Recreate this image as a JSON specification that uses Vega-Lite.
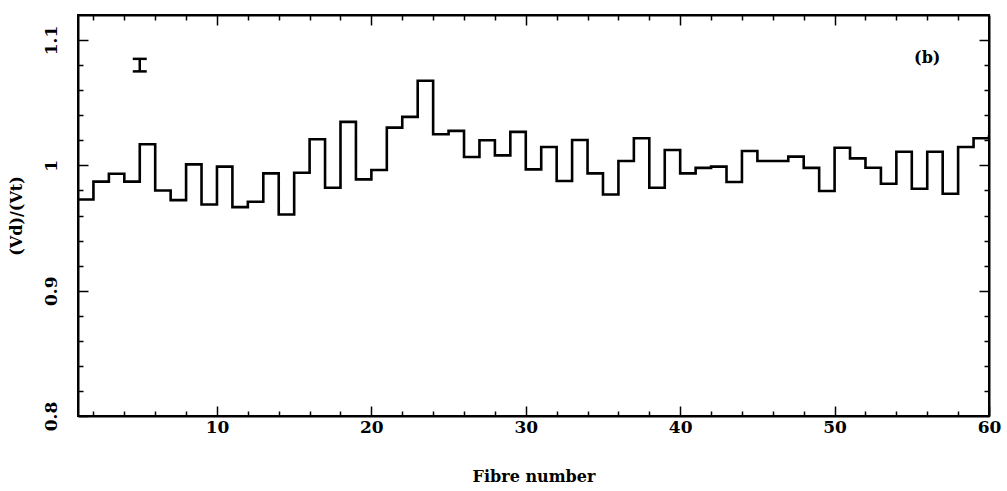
{
  "$schema": "https://vega.github.io/schema/vega-lite/v6.json",
  "autosize": "none",
  "width": 911,
  "height": 401,
  "padding": {"left": 78, "top": 15, "right": 18, "bottom": 75},
  "background": "white",
  "config": {
    "view": {"stroke": "black", "strokeWidth": 2},
    "font": "DejaVu Serif",
    "axis": {
      "domainColor": "black",
      "domainWidth": 2,
      "tickColor": "black",
      "tickWidth": 1.5,
      "grid": false,
      "labelFont": "DejaVu Serif",
      "labelFontWeight": "bold",
      "labelFontSize": 17,
      "labelColor": "black",
      "labelOverlap": false,
      "labelBound": false,
      "labelFlush": false,
      "titleFont": "DejaVu Serif",
      "titleFontWeight": "bold",
      "titleFontSize": 16,
      "titleColor": "black"
    }
  },
  "datasets": {
    "hist": [
      {"fibre": 1, "ratio": 0.9728},
      {"fibre": 2, "ratio": 0.987},
      {"fibre": 3, "ratio": 0.9933},
      {"fibre": 4, "ratio": 0.987},
      {"fibre": 5, "ratio": 1.0168},
      {"fibre": 6, "ratio": 0.98},
      {"fibre": 7, "ratio": 0.9723},
      {"fibre": 8, "ratio": 1.0008},
      {"fibre": 9, "ratio": 0.9688},
      {"fibre": 10, "ratio": 0.999},
      {"fibre": 11, "ratio": 0.9667},
      {"fibre": 12, "ratio": 0.971},
      {"fibre": 13, "ratio": 0.9936},
      {"fibre": 14, "ratio": 0.9608},
      {"fibre": 15, "ratio": 0.9941},
      {"fibre": 16, "ratio": 1.0208},
      {"fibre": 17, "ratio": 0.9821},
      {"fibre": 18, "ratio": 1.0347},
      {"fibre": 19, "ratio": 0.9888},
      {"fibre": 20, "ratio": 0.9963},
      {"fibre": 21, "ratio": 1.0301},
      {"fibre": 22, "ratio": 1.0387},
      {"fibre": 23, "ratio": 1.0675},
      {"fibre": 24, "ratio": 1.0248},
      {"fibre": 25, "ratio": 1.0275},
      {"fibre": 26, "ratio": 1.0067},
      {"fibre": 27, "ratio": 1.02},
      {"fibre": 28, "ratio": 1.008},
      {"fibre": 29, "ratio": 1.0267},
      {"fibre": 30, "ratio": 0.9968},
      {"fibre": 31, "ratio": 1.0147},
      {"fibre": 32, "ratio": 0.9875},
      {"fibre": 33, "ratio": 1.0203},
      {"fibre": 34, "ratio": 0.9936},
      {"fibre": 35, "ratio": 0.9768},
      {"fibre": 36, "ratio": 1.0035},
      {"fibre": 37, "ratio": 1.0216},
      {"fibre": 38, "ratio": 0.9821},
      {"fibre": 39, "ratio": 1.0123},
      {"fibre": 40, "ratio": 0.9936},
      {"fibre": 41, "ratio": 0.998},
      {"fibre": 42, "ratio": 0.999},
      {"fibre": 43, "ratio": 0.9867},
      {"fibre": 44, "ratio": 1.0115},
      {"fibre": 45, "ratio": 1.0035},
      {"fibre": 46, "ratio": 1.0035},
      {"fibre": 47, "ratio": 1.007},
      {"fibre": 48, "ratio": 0.998},
      {"fibre": 49, "ratio": 0.9795},
      {"fibre": 50, "ratio": 1.0141},
      {"fibre": 51, "ratio": 1.0056},
      {"fibre": 52, "ratio": 0.9981},
      {"fibre": 53, "ratio": 0.9853},
      {"fibre": 54, "ratio": 1.0109},
      {"fibre": 55, "ratio": 0.9813},
      {"fibre": 56, "ratio": 1.0109},
      {"fibre": 57, "ratio": 0.9773},
      {"fibre": 58, "ratio": 1.0147},
      {"fibre": 59, "ratio": 1.0216},
      {"fibre": 60, "ratio": 1.024}
    ],
    "err": [
      {"fibre": 5, "lo": 1.075, "hi": 1.085}
    ],
    "label": [
      {"fibre": 56, "ratio": 1.086, "text": "(b)"}
    ]
  },
  "resolve": {"axis": {"x": "independent", "y": "independent"}},
  "layer": [
    {
      "data": {"name": "hist"},
      "mark": {"type": "line", "interpolate": "step-after", "color": "black", "strokeWidth": 2.6, "clip": true},
      "encoding": {
        "x": {
          "field": "fibre", "type": "quantitative",
          "scale": {"domain": [1, 60], "nice": false, "zero": false},
          "axis": {
            "orient": "bottom",
            "title": "Fibre number",
            "values": [2,4,6,8,10,12,14,16,18,20,22,24,26,28,30,32,34,36,38,40,42,44,46,48,50,52,54,56,58,60],
            "tickSize": {"condition": {"test": "datum.value % 10 === 0", "value": -10}, "value": -5},
            "labelExpr": "datum.value % 10 === 0 ? datum.label : ''",
            "format": "d",
            "labelPadding": 13,
            "titlePadding": 28
          }
        },
        "y": {
          "field": "ratio", "type": "quantitative",
          "scale": {"domain": [0.8, 1.12], "nice": false, "zero": false},
          "axis": {
            "orient": "left",
            "title": "(Vd)/(Vt)",
            "values": [0.8,0.82,0.84,0.86,0.88,0.9,0.92,0.94,0.96,0.98,1,1.02,1.04,1.06,1.08,1.1],
            "tickSize": {"condition": {"test": "abs(datum.value*10 - round(datum.value*10)) < 0.001", "value": -10}, "value": -5},
            "labelExpr": "abs(datum.value*10 - round(datum.value*10)) < 0.001 ? format(datum.value, '~g') : ''",
            "labelAngle": -90,
            "labelPadding": 28,
            "titlePadding": 13
          }
        }
      }
    },
    {
      "data": {"name": "err"},
      "mark": {"type": "rule", "color": "black", "strokeWidth": 2.5, "opacity": 1},
      "encoding": {
        "x": {
          "field": "fibre", "type": "quantitative",
          "axis": {
            "orient": "top", "title": null, "labels": false,
            "values": [2,4,6,8,10,12,14,16,18,20,22,24,26,28,30,32,34,36,38,40,42,44,46,48,50,52,54,56,58],
            "tickSize": {"condition": {"test": "datum.value % 10 === 0", "value": -10}, "value": -5}
          }
        },
        "y": {
          "field": "lo", "type": "quantitative",
          "axis": {
            "orient": "right", "title": null, "labels": false,
            "values": [0.82,0.84,0.86,0.88,0.9,0.92,0.94,0.96,0.98,1,1.02,1.04,1.06,1.08,1.1],
            "tickSize": {"condition": {"test": "abs(datum.value*10 - round(datum.value*10)) < 0.001", "value": -10}, "value": -5}
          }
        },
        "y2": {"field": "hi"}
      }
    },
    {
      "data": {"name": "err"},
      "mark": {"type": "tick", "orient": "horizontal", "color": "black", "opacity": 1, "size": 14, "thickness": 2.5},
      "encoding": {
        "x": {"field": "fibre", "type": "quantitative", "axis": null},
        "y": {"field": "lo", "type": "quantitative", "axis": null}
      }
    },
    {
      "data": {"name": "err"},
      "mark": {"type": "tick", "orient": "horizontal", "color": "black", "opacity": 1, "size": 14, "thickness": 2.5},
      "encoding": {
        "x": {"field": "fibre", "type": "quantitative", "axis": null},
        "y": {"field": "hi", "type": "quantitative", "axis": null}
      }
    },
    {
      "data": {"name": "label"},
      "mark": {"type": "text", "font": "DejaVu Serif", "fontWeight": "bold", "fontSize": 16, "color": "black"},
      "encoding": {
        "x": {"field": "fibre", "type": "quantitative", "axis": null},
        "y": {"field": "ratio", "type": "quantitative", "axis": null},
        "text": {"field": "text"}
      }
    }
  ]
}
